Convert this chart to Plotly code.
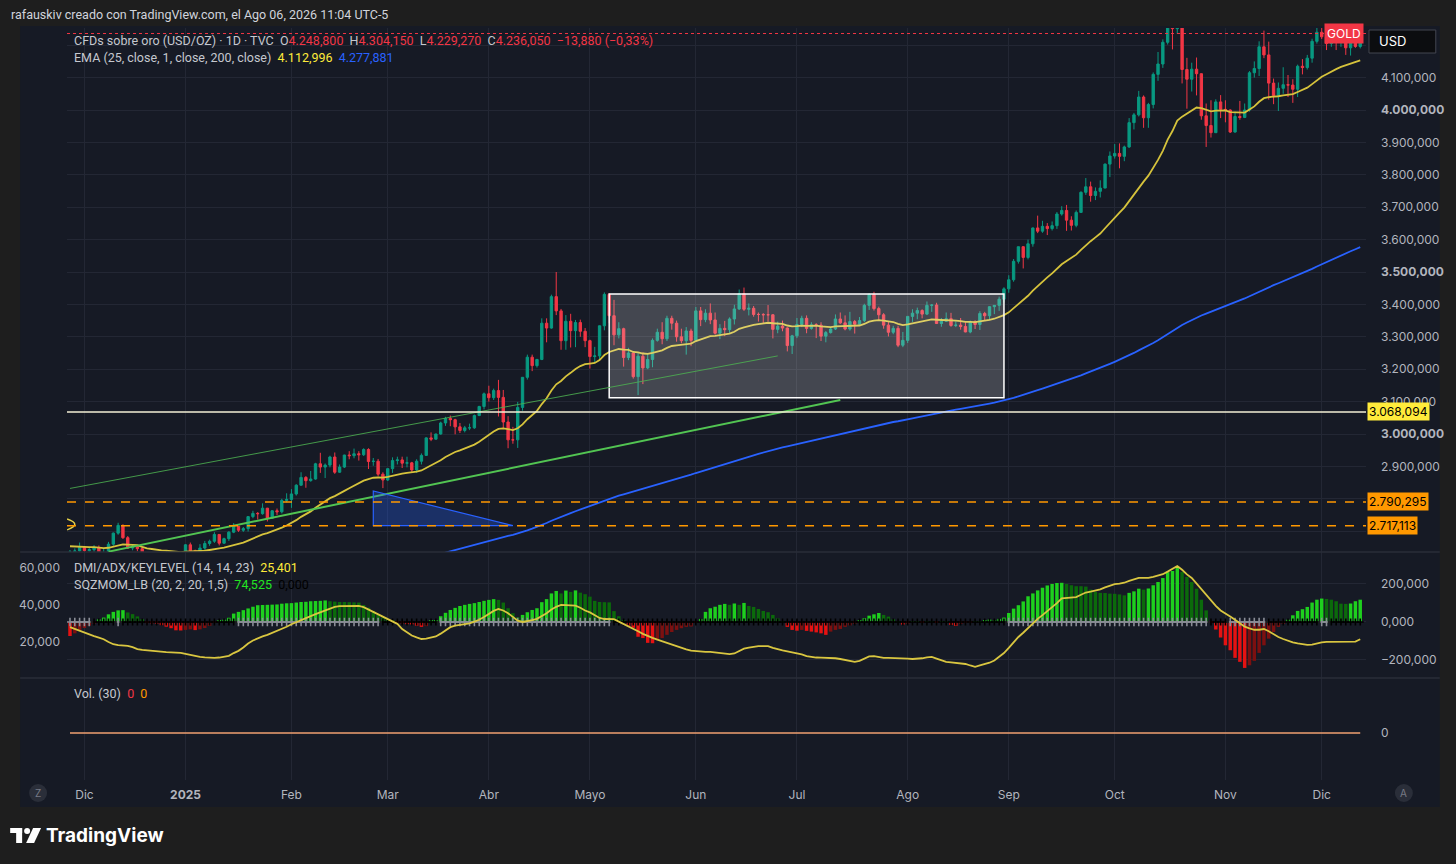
import numpy as np
import pandas as pd
import plotly.graph_objects as go

# TVC:GOLD daily candles, 27 Nov 2024 - 11 Dec 2025 (one line per month)
opens = [
    2633, 2636, 2639,
    2650, 2640, 2643, 2650, 2632, 2633, 2660, 2694, 2718, 2680, 2648, 2652, 2646, 2586, 2594, 2622, 2612, 2617, 2634, 2621, 2606,
    2624, 2658, 2640, 2636, 2648, 2662, 2669, 2690, 2663, 2677, 2697, 2715, 2703, 2708, 2745, 2755, 2754, 2771, 2740, 2763, 2760, 2795,
    2798, 2815, 2842, 2866, 2856, 2861, 2908, 2898, 2904, 2929, 2882, 2898, 2935, 2933, 2939, 2936, 2952, 2915, 2916, 2876,
    2858, 2893, 2918, 2920, 2910, 2911, 2889, 2916, 2934, 2988, 2984, 3000, 3034, 3048, 3044, 3022, 3011, 3019, 3019, 3057, 3085,
    3124, 3112, 3134, 3113, 3037, 2982, 2982, 3082, 3175, 3237, 3211, 3230, 3342, 3327, 3424, 3380, 3288, 3348, 3319, 3344, 3317,
    3288, 3239, 3241, 3334, 3431, 3365, 3306, 3325, 3236, 3250, 3177, 3240, 3204, 3230, 3289, 3314, 3294, 3357, 3342, 3300, 3288, 3318,
    3289, 3380, 3353, 3373, 3352, 3311, 3326, 3322, 3355, 3386, 3433, 3385, 3388, 3369, 3369, 3368, 3368, 3323, 3333, 3327, 3273,
    3303, 3338, 3357, 3326, 3337, 3336, 3302, 3313, 3324, 3355, 3343, 3324, 3347, 3339, 3350, 3397, 3431, 3387, 3368, 3336, 3314, 3326, 3274,
    3289, 3363, 3373, 3381, 3370, 3397, 3398, 3341, 3348, 3356, 3335, 3336, 3332, 3315, 3347, 3338, 3372, 3365, 3393, 3397, 3416,
    3448, 3476, 3533, 3578, 3545, 3587, 3636, 3626, 3641, 3634, 3643, 3679, 3690, 3660, 3644, 3684, 3746, 3763, 3736, 3749, 3759, 3833,
    3858, 3866, 3857, 3886, 3961, 3985, 4040, 3976, 4017, 4110, 4142, 4209, 4326, 4251, 4356, 4125, 4095, 4126, 4112, 3982, 3952, 3930, 4025,
    4002, 4000, 3932, 3980, 3977, 4000, 4115, 4128, 4195, 4170, 4083, 4045, 4067, 4078, 4077, 4064, 4135, 4131, 4160, 4212,
    4240, 4226, 4205, 4225, 4210, 4215, 4192, 4208, 4196,
]
highs = [
    2642, 2647, 2665,
    2650, 2649, 2657, 2656, 2645, 2667, 2696, 2726, 2721, 2685, 2660, 2655, 2654, 2625, 2632, 2625, 2622, 2638, 2637, 2628, 2628,
    2660, 2665, 2643, 2660, 2670, 2674, 2697, 2691, 2680, 2700, 2725, 2716, 2713, 2746, 2763, 2759, 2786, 2772, 2765, 2770, 2800, 2817,
    2830, 2845, 2882, 2870, 2886, 2911, 2942, 2909, 2933, 2943, 2906, 2936, 2947, 2955, 2947, 2956, 2956, 2926, 2923, 2882,
    2894, 2928, 2930, 2930, 2930, 2914, 2922, 2940, 2990, 3005, 3001, 3038, 3053, 3057, 3047, 3034, 3025, 3032, 3060, 3087, 3128,
    3149, 3140, 3167, 3136, 3055, 3022, 3099, 3175, 3245, 3245, 3232, 3357, 3357, 3430, 3500, 3386, 3367, 3371, 3352, 3353, 3327,
    3291, 3269, 3335, 3437, 3435, 3414, 3345, 3328, 3266, 3252, 3252, 3252, 3250, 3295, 3325, 3345, 3365, 3365, 3350, 3325, 3330, 3325,
    3392, 3392, 3385, 3403, 3375, 3339, 3349, 3360, 3399, 3446, 3452, 3403, 3395, 3375, 3373, 3398, 3370, 3347, 3350, 3329, 3306,
    3358, 3365, 3366, 3345, 3342, 3345, 3318, 3330, 3369, 3375, 3366, 3377, 3352, 3361, 3402, 3434, 3439, 3393, 3373, 3346, 3334, 3334, 3315,
    3363, 3385, 3390, 3385, 3409, 3401, 3405, 3358, 3375, 3374, 3348, 3358, 3345, 3350, 3351, 3379, 3377, 3394, 3398, 3424, 3453,
    3490, 3540, 3578, 3580, 3600, 3637, 3674, 3658, 3651, 3656, 3685, 3703, 3707, 3672, 3690, 3749, 3790, 3779, 3761, 3783, 3835, 3872,
    3895, 3897, 3890, 3975, 3991, 4059, 4045, 4022, 4116, 4179, 4218, 4330, 4380, 4381, 4360, 4161, 4146, 4162, 4113, 4020, 4030, 4033, 4046,
    4030, 4002, 3995, 4028, 4020, 4120, 4150, 4212, 4245, 4211, 4097, 4085, 4132, 4108, 4095, 4140, 4157, 4170, 4220, 4255,
    4264, 4240, 4241, 4228, 4259, 4230, 4217, 4236, 4262,
]
lows = [
    2605, 2625, 2632,
    2622, 2632, 2635, 2614, 2613, 2625, 2655, 2689, 2676, 2645, 2641, 2638, 2583, 2583, 2592, 2603, 2610, 2616, 2615, 2597, 2604,
    2622, 2635, 2615, 2630, 2643, 2655, 2664, 2656, 2661, 2670, 2694, 2698, 2698, 2699, 2740, 2736, 2751, 2730, 2738, 2750, 2755, 2789,
    2772, 2810, 2840, 2834, 2853, 2859, 2880, 2864, 2897, 2877, 2880, 2895, 2922, 2925, 2918, 2932, 2892, 2902, 2869, 2833,
    2855, 2880, 2906, 2895, 2897, 2880, 2880, 2906, 2932, 2978, 2983, 2998, 3025, 3024, 2999, 3003, 3005, 3012, 3016, 3055, 3076,
    3100, 3105, 3054, 3015, 2956, 2970, 2957, 3072, 3168, 3194, 3205, 3228, 3283, 3325, 3367, 3260, 3260, 3267, 3268, 3300, 3268,
    3202, 3222, 3230, 3320, 3342, 3274, 3295, 3208, 3228, 3171, 3120, 3154, 3200, 3206, 3285, 3277, 3287, 3322, 3285, 3280, 3245, 3271,
    3288, 3333, 3345, 3339, 3307, 3293, 3302, 3312, 3338, 3383, 3380, 3366, 3362, 3347, 3340, 3347, 3295, 3311, 3317, 3255, 3247,
    3296, 3330, 3311, 3322, 3296, 3287, 3283, 3310, 3321, 3340, 3320, 3319, 3310, 3334, 3345, 3383, 3381, 3351, 3325, 3301, 3308, 3268, 3268,
    3281, 3346, 3354, 3357, 3367, 3377, 3340, 3331, 3346, 3331, 3330, 3322, 3314, 3311, 3324, 3321, 3351, 3352, 3370, 3380, 3406,
    3436, 3470, 3526, 3511, 3539, 3578, 3620, 3621, 3614, 3628, 3633, 3674, 3627, 3628, 3638, 3683, 3738, 3717, 3722, 3730, 3759, 3793,
    3850, 3820, 3842, 3883, 3940, 3980, 3945, 3945, 4005, 4090, 4130, 4202, 4187, 4235, 4082, 4004, 4057, 4045, 3970, 3886, 3915, 3930, 3975,
    3962, 3929, 3930, 3970, 3975, 3995, 4100, 4105, 4160, 4032, 4018, 3997, 4050, 4040, 4022, 4040, 4110, 4125, 4146, 4205,
    4219, 4185, 4195, 4185, 4195, 4170, 4168, 4192, 4190,
]
closes = [
    2636, 2639, 2650,
    2640, 2643, 2650, 2632, 2633, 2660, 2694, 2718, 2680, 2648, 2652, 2646, 2586, 2594, 2622, 2612, 2617, 2634, 2621, 2606, 2624,
    2658, 2640, 2636, 2648, 2662, 2669, 2690, 2663, 2677, 2697, 2715, 2703, 2708, 2745, 2755, 2754, 2771, 2740, 2763, 2760, 2795, 2798,
    2815, 2842, 2866, 2856, 2861, 2908, 2898, 2904, 2929, 2882, 2898, 2935, 2933, 2939, 2936, 2952, 2915, 2916, 2876, 2858,
    2893, 2918, 2920, 2910, 2911, 2889, 2916, 2934, 2988, 2984, 3000, 3034, 3048, 3044, 3022, 3011, 3019, 3019, 3057, 3085, 3124,
    3112, 3134, 3113, 3037, 2982, 2982, 3082, 3175, 3237, 3211, 3230, 3342, 3327, 3424, 3380, 3288, 3348, 3319, 3344, 3317, 3288,
    3239, 3241, 3334, 3431, 3365, 3306, 3325, 3236, 3250, 3177, 3240, 3204, 3230, 3289, 3314, 3294, 3357, 3342, 3300, 3288, 3318, 3289,
    3380, 3353, 3373, 3352, 3311, 3326, 3322, 3355, 3386, 3433, 3385, 3388, 3369, 3369, 3368, 3368, 3323, 3333, 3327, 3273, 3303,
    3338, 3357, 3326, 3337, 3336, 3302, 3313, 3324, 3355, 3343, 3324, 3347, 3339, 3350, 3397, 3431, 3387, 3368, 3336, 3314, 3326, 3274, 3289,
    3363, 3373, 3381, 3370, 3397, 3398, 3341, 3348, 3356, 3335, 3336, 3332, 3315, 3347, 3338, 3372, 3365, 3393, 3397, 3416, 3448,
    3476, 3533, 3578, 3545, 3587, 3636, 3626, 3641, 3634, 3643, 3679, 3690, 3660, 3644, 3684, 3746, 3763, 3736, 3749, 3759, 3833, 3858,
    3866, 3857, 3886, 3961, 3985, 4040, 3976, 4017, 4110, 4142, 4209, 4326, 4251, 4356, 4125, 4095, 4126, 4112, 3982, 3952, 3930, 4025, 4002,
    4000, 3932, 3980, 3977, 4000, 4115, 4128, 4195, 4170, 4083, 4045, 4067, 4078, 4077, 4064, 4135, 4131, 4160, 4212, 4240,
    4226, 4205, 4225, 4210, 4215, 4192, 4208, 4196, 4228,
]

# SQZMOM_LB momentum, one value per bar
sqz_mom = [
    -74, -60, -42, -32, -20, -8, 14, 23, 40, 53,
    61, 62, 50, 41, 29, 15, -6, -7, -9, -17,
    -25, -33, -44, -45, -42, -39, -43, -39, -32, -21,
    -4, 5, 12, 22, 44, 53, 62, 71, 80, 88,
    89, 90, 91, 92, 96, 98, 99, 102, 105, 106,
    109, 110, 111, 113, 109, 107, 105, 105, 104, 103,
    102, 89, 75, 58, 38, 24, 14, 5, -4, -7,
    -12, -13, -20, -26, -22, 8, 10, 30, 48, 63,
    74, 84, 90, 95, 99, 105, 111, 116, 120, 116,
    102, 72, 46, 25, 37, 51, 63, 72, 104, 120,
    150, 163, 150, 165, 158, 166, 154, 146, 133, 111,
    105, 104, 103, 57, 30, 10, -20, -31, -78, -85,
    -110, -112, -96, -85, -68, -53, -42, -33, -26, -24,
    -5, 16, 53, 72, 80, 90, 95, 90, 97, 90,
    100, 84, 79, 68, 58, 51, 37, 19, 2, -26,
    -42, -46, -42, -47, -51, -55, -60, -68, -51, -42,
    -37, -26, -18, -9, 9, 20, 33, 40, 47, 37,
    28, 14, 4, -14, -9, 3, 4, -2, 3, 2,
    -3, 2, 3, -16, -21, -10, -6, -2, 3, 4,
    9, 13, 9, 16, 23, 47, 70, 88, 108, 135,
    150, 166, 180, 192, 200, 205, 206, 200, 193, 188,
    188, 186, 170, 158, 153, 152, 149, 148, 145, 140,
    153, 161, 175, 170, 176, 193, 210, 231, 262, 268,
    293, 263, 237, 210, 175, 117, 61, -5, -40, -82,
    -123, -149, -189, -210, -242, -228, -205, -163, -123, -88,
    -53, -26, -9, 12, 35, 58, 67, 79, 102, 117,
    123, 121, 117, 109, 96, 95, 97, 109, 117,
]

# DMI/ADX line, one value per bar
adx = [
    28.0, 27.0, 25.8, 25.0, 24.0, 23.2, 22.4, 21.5, 20.0, 18.8,
    18.3, 18.1, 17.9, 17.2, 16.2, 15.7, 15.4, 15.1, 14.8, 14.6,
    14.5, 14.4, 14.3, 14.1, 13.6, 13.0, 12.4, 12.0, 11.7, 11.5,
    11.4, 11.6, 11.9, 12.5, 14.0, 15.2, 17.0, 19.2, 20.8, 22.0,
    23.0, 23.8, 24.8, 25.8, 26.9, 28.2, 29.6, 30.8, 31.8, 32.8,
    34.0, 35.0, 36.0, 37.2, 38.4, 39.0, 39.4, 39.5, 39.5, 39.5,
    39.5, 38.8, 37.5, 36.5, 35.2, 33.8, 32.4, 31.0, 29.8, 27.0,
    25.0, 23.5, 22.5, 21.6, 21.8, 22.3, 23.0, 24.5, 26.5, 28.0,
    28.8, 29.3, 29.6, 30.0, 31.0, 32.0, 33.5, 35.0, 36.8, 37.8,
    37.0, 35.5, 33.5, 31.5, 30.8, 31.2, 31.8, 32.5, 34.0, 35.5,
    37.5, 39.0, 40.0, 40.0, 39.8, 39.6, 38.5, 37.0, 36.0, 34.5,
    33.0, 32.4, 32.4, 32.3, 31.0, 29.8, 28.4, 27.0, 25.8, 24.4,
    23.2, 22.2, 21.3, 20.4, 19.3, 18.3, 17.5, 16.8, 16.0, 15.3,
    15.0, 14.7, 14.6, 14.6, 14.4, 14.0, 13.6, 13.4, 13.8, 15.0,
    16.4, 17.0, 17.5, 17.8, 17.8, 17.8, 16.8, 16.0, 15.4, 14.9,
    14.4, 14.1, 13.3, 12.4, 11.8, 11.6, 11.5, 11.4, 11.4, 11.2,
    10.8, 10.4, 9.8, 9.3, 9.8, 11.0, 12.2, 12.3, 11.8, 11.4,
    11.4, 11.4, 11.4, 11.2, 11.0, 10.8, 10.8, 11.2, 11.7, 11.9,
    11.0, 10.0, 9.3, 9.0, 8.7, 8.4, 8.1, 7.3, 6.6, 7.3,
    8.0, 8.8, 10.0, 11.8, 14.0, 16.8, 20.0, 22.7, 25.0, 27.5,
    30.3, 32.5, 34.5, 36.5, 38.5, 41.0, 43.5, 43.8, 44.0, 44.2,
    45.5, 46.7, 47.2, 47.8, 48.4, 49.5, 50.5, 51.2, 51.5, 52.0,
    53.0, 54.0, 54.6, 54.6, 54.6, 55.2, 56.0, 56.6, 58.0, 59.5,
    61.0, 59.0, 56.5, 54.6, 51.5, 48.5, 45.5, 42.5, 39.5, 37.0,
    35.5, 33.8, 32.0, 30.2, 28.3, 27.3, 26.6, 26.6, 27.0, 25.8,
    24.2, 22.7, 21.6, 20.5, 19.8, 19.2, 18.8, 18.4, 18.6, 19.3,
    19.8, 20.0, 20.0, 20.0, 20.0, 20.0, 20.0, 20.2, 21.5,
]

# bars where the squeeze is off (gray crosses), inclusive ranges
sqz_off = [(0, 4), (10, 10), (35, 64), (77, 112), (195, 236), (241, 248), (260, 261)]

month_labels = ["Dic", "<b>2025</b>", "Feb", "Mar", "Abr", "Mayo", "Jun", "Jul", "Ago", "Sep", "Oct", "Nov", "Dic"]

# drawings on the chart
box_dates, box_prices = ("2025-05-07", "2025-08-29"), (3112, 3432)
thin_line = [("2024-11-27", 2832), ("2025-06-25", 3241)]
thick_line = [("2024-12-09", 2637), ("2025-07-14", 3105)]
tri_dates, tri_prices = ("2025-02-26", "2025-04-08"), (2824, 2717.113)
white_level = 3068.094
orange_levels = [2790.295, 2717.113]
last_price = 4236.05

# ---- derived ----
dates = pd.bdate_range("2024-11-27", "2025-12-11")
dates = dates[~dates.isin(pd.to_datetime(["2024-12-25", "2025-01-01", "2025-04-18"]))]
assert len(dates) == len(closes) == len(opens) == len(highs) == len(lows) == len(sqz_mom) == len(adx)
idx = np.arange(len(dates))
pos = {d.strftime("%Y-%m-%d"): i for i, d in enumerate(dates)}

firsts = pd.Series(idx, index=dates).groupby([dates.year, dates.month]).first().values[1:]


def ema(values, n, seed):
    k = 2 / (n + 1)
    out, e = [], seed
    for v in values:
        e += k * (v - e)
        out.append(e)
    return out


ema25 = ema(closes, 25, 2655)
ema200 = ema(closes, 200, 2430)


def es(v, d=3):
    s = f"{v:,.{d}f}"
    return s.replace(",", "X").replace(".", ",").replace("X", ".")


LIME, GREEN, RED, MAROON = "#1ed01e", "#0b6a0b", "#e61212", "#7c1010"
bar_cols, prev = [], 0
for v in sqz_mom:
    if v > 0:
        bar_cols.append(LIME if v > prev else GREEN)
    else:
        bar_cols.append(RED if v < prev else MAROON)
    prev = v

off_set = set()
for a, b in sqz_off:
    off_set.update(range(a, b + 1))
gx, gy = [], []
for a, b in sqz_off:
    gx += list(range(a, b + 1)) + [None]
    gy += [0] * (b - a + 1) + [None]
bx = [i for i in idx if i not in off_set]

BG = "#161a25"
PAGE = "#1e1e1e"
GRID = "#232734"
TXT = "#b2b5be"
FONT = "Inter, Roboto, sans-serif"
LFONT = "Roboto, sans-serif"


def px(x):
    return (x - 67) / 1303


def py(y):
    return (780 - y) / 752


fig = go.Figure()

fig.add_trace(go.Candlestick(
    x=idx, open=opens, high=highs, low=lows, close=closes,
    increasing=dict(line=dict(color="#089981", width=1), fillcolor="#089981"),
    decreasing=dict(line=dict(color="#f23645", width=1), fillcolor="#f23645"),
    whiskerwidth=0, xaxis="x", yaxis="y"))
fig.add_trace(go.Scatter(x=idx, y=ema25, mode="lines", line=dict(color="#d6c33c", width=1.8),
                         xaxis="x", yaxis="y"))
fig.add_trace(go.Scatter(x=idx, y=ema200, mode="lines", line=dict(color="#2962ff", width=1.8),
                         xaxis="x", yaxis="y"))

fig.add_trace(go.Bar(x=idx, y=sqz_mom, marker=dict(color=bar_cols, line=dict(width=0)), width=0.72,
                     xaxis="x", yaxis="y2"))
fig.add_trace(go.Scatter(x=gx, y=gy, mode="lines+markers", line=dict(color="#787b86", width=1),
                         marker=dict(symbol="cross-thin", size=6, line=dict(color="#8a8d96", width=1.6)),
                         xaxis="x", yaxis="y2"))
fig.add_trace(go.Scatter(x=bx, y=[0] * len(bx), mode="markers",
                         marker=dict(symbol="cross-thin", size=5, line=dict(color="#000000", width=1.6)),
                         xaxis="x", yaxis="y2"))
fig.add_trace(go.Scatter(x=idx, y=adx, mode="lines", line=dict(color="#d9c640", width=1.8),
                         xaxis="x", yaxis="y3"))

fig.add_trace(go.Scatter(x=idx, y=[0] * len(idx), mode="lines", line=dict(color="#f0a070", width=1.5),
                         xaxis="x", yaxis="y4"))

shapes = [
    dict(type="rect", xref="paper", yref="paper", x0=px(20), x1=px(1444), y0=py(807), y1=py(26),
         fillcolor=BG, line=dict(width=0), layer="below"),
    dict(type="line", xref="paper", yref="paper", x0=px(20), x1=px(1444), y0=py(552), y1=py(552),
         line=dict(color="#2a2e39", width=1.5)),
    dict(type="line", xref="paper", yref="paper", x0=px(20), x1=px(1444), y0=py(678), y1=py(678),
         line=dict(color="#2a2e39", width=1.5)),
    # consolidation box
    dict(type="rect", xref="x", yref="y", x0=pos[box_dates[0]], x1=pos[box_dates[1]],
         y0=box_prices[0], y1=box_prices[1], fillcolor="rgba(255,255,255,0.2)",
         line=dict(color="#ffffff", width=1.5), layer="above"),
    dict(type="line", xref="x", yref="y", x0=pos[thin_line[0][0]], y0=thin_line[0][1],
         x1=pos[thin_line[1][0]], y1=thin_line[1][1], line=dict(color="rgba(76,175,80,0.85)", width=1)),
    dict(type="line", xref="x", yref="y", x0=pos[thick_line[0][0]], y0=thick_line[0][1],
         x1=pos[thick_line[1][0]], y1=thick_line[1][1], line=dict(color="#52c452", width=2)),
    dict(type="path", xref="x", yref="y",
         path=f"M {pos[tri_dates[0]]},{tri_prices[0]} L {pos[tri_dates[0]]},{tri_prices[1]} "
              f"L {pos[tri_dates[1]]},{tri_prices[1]} Z",
         fillcolor="rgba(41,98,255,0.3)", line=dict(color="#2962ff", width=1.2)),
    dict(type="path", xref="x", yref="y", path="M -0.6,2738 Q 2.6,2722 -0.6,2704",
         line=dict(color="#e8d44a", width=1.5)),
    dict(type="line", xref="paper", yref="y", x0=0, x1=1, y0=white_level, y1=white_level,
         line=dict(color="#f4f1d6", width=1.5)),
    dict(type="line", xref="paper", yref="y", x0=0, x1=1, y0=last_price, y1=last_price,
         line=dict(color="#f23645", width=1, dash="dot")),
    # currency button
    dict(type="rect", xref="paper", yref="paper", x0=px(1373), x1=px(1440), y0=py(53), y1=py(30),
         fillcolor="#0c0d10", line=dict(color="#434651", width=1)),
    # Z / A buttons
    dict(type="circle", xref="paper", yref="paper", x0=px(29), x1=px(47), y0=py(802), y1=py(784),
         fillcolor="#2a2e39", line=dict(width=0)),
    dict(type="circle", xref="paper", yref="paper", x0=px(1399), x1=px(1417), y0=py(802), y1=py(784),
         fillcolor="#2a2e39", line=dict(width=0)),
    # TradingView logo glyph
    dict(type="rect", xref="paper", yref="paper", x0=px(10), x1=px(22), y0=py(833), y1=py(828),
         fillcolor="#ffffff", line=dict(width=0)),
    dict(type="rect", xref="paper", yref="paper", x0=px(16), x1=px(22), y0=py(843), y1=py(828),
         fillcolor="#ffffff", line=dict(width=0)),
    dict(type="circle", xref="paper", yref="paper", x0=px(24), x1=px(30), y0=py(834), y1=py(828),
         fillcolor="#ffffff", line=dict(width=0)),
    dict(type="path", xref="paper", yref="paper",
         path=f"M {px(33)},{py(828)} L {px(41)},{py(828)} L {px(34)},{py(843)} L {px(26)},{py(843)} Z",
         fillcolor="#ffffff", line=dict(width=0)),
]
for lv in orange_levels:
    shapes.append(dict(type="line", xref="paper", yref="y", x0=0, x1=1, y0=lv, y1=lv,
                       line=dict(color="#ff9800", width=1.5, dash="dash")))

anns = []


def note(x, y, text, size=12, color=TXT, xanchor="left", family=LFONT, **kw):
    anns.append(dict(xref="paper", yref="paper", x=px(x), y=py(y), text=text, showarrow=False,
                     xanchor=xanchor, yanchor="middle", font=dict(family=family, size=size, color=color), **kw))


red = lambda s: f"<span style='color:#f23645'>{s}</span>"
sp = "\u00a0"
note(9, 14, "rafauskiv creado con TradingView.com, el Ago 06, 2026 11:04 UTC-5", size=12.5, color="#d1d4dc")
note(72, 41, f"CFDs sobre oro (USD/OZ) · 1D · TVC{sp}{sp}O{red('4.248,800')}{sp}{sp}H{red('4.304,150')}"
             f"{sp}{sp}L{red('4.229,270')}{sp}{sp}C{red('4.236,050')}{sp}{sp}{red('−13,880 (−0,33%)')}",
     size=12.5, color="#c5c8cf")
note(72, 57, f"EMA (25, close, 1, close, 200, close){sp}{sp}<span style='color:#ffeb3b'>4.112,996</span>"
             f"{sp}{sp}<span style='color:#2962ff'>4.277,881</span>", size=12.5, color="#c5c8cf")
note(72, 567, f"DMI/ADX/KEYLEVEL (14, 14, 23){sp}{sp}<span style='color:#ffeb3b'>25,401</span>",
     size=12.5, color="#c5c8cf")
note(72, 584, f"SQZMOM_LB (20, 2, 20, 1,5){sp}{sp}<span style='color:#22e622'>74,525</span>"
              f"{sp}{sp}<span style='color:#000000'>0,000</span>", size=12.5, color="#c5c8cf")
note(72, 693, f"Vol. (30){sp}{sp}{red('0')}{sp}{sp}<span style='color:#ff9800'>0</span>",
     size=12.5, color="#c5c8cf")
note(1381, 41, "USD", size=13, color="#ffffff", family=FONT)
note(38, 793, "Z", size=10, color="#787b86", xanchor="center", family=FONT)
note(1408, 793, "A", size=10, color="#787b86", xanchor="center", family=FONT)
note(44, 835, "<b>TradingView</b>", size=19, color="#ffffff", family=FONT)

# price labels on the scale
anns.append(dict(xref="paper", yref="y", x=px(1371), y=white_level, text=es(white_level), showarrow=False,
                 xanchor="left", yanchor="middle", bgcolor="#ffeb3b", borderpad=1,
                 font=dict(family=FONT, size=12, color="#000000")))
for lv in orange_levels:
    anns.append(dict(xref="paper", yref="y", x=px(1371), y=lv, text=es(lv), showarrow=False,
                     xanchor="left", yanchor="middle", bgcolor="#ff9800", borderpad=1,
                     font=dict(family=FONT, size=12, color="#000000")))
anns.append(dict(xref="paper", yref="y", x=px(1368), y=last_price, text="GOLD", showarrow=False,
                 xanchor="right", yanchor="middle", bgcolor="#f23645", borderpad=2,
                 font=dict(family=FONT, size=12, color="#ffffff")))

# gridlines every 100; labels hidden where the scale badges sit
price_ticks = list(range(2700, 4201, 100))
hidden = {2700, 2800, 4200}
price_text = ["" if v in hidden else (f"<b>{es(v)}</b>" if v % 500 == 0 else es(v)) for v in price_ticks]

tickfont = dict(family=FONT, size=12, color=TXT)
fig.update_layout(
    width=1456, height=864,
    margin=dict(l=67, r=86, t=28, b=84),
    paper_bgcolor=PAGE, plot_bgcolor=BG,
    showlegend=False, hovermode=False, bargap=0.25,
    font=dict(family=FONT, color=TXT),
    xaxis=dict(domain=[0, 1], anchor="y4", range=[-0.62, 269.2], tickvals=list(firsts),
               ticktext=month_labels, showgrid=True, gridcolor=GRID, zeroline=False,
               showline=False, ticks="", tickfont=tickfont, rangeslider=dict(visible=False),
               ticklabelstandoff=6),
    yaxis=dict(domain=[py(552), 1], anchor="x", side="right", range=[2635.8, 4253.1],
               tickvals=price_ticks, ticktext=price_text, showgrid=True, gridcolor=GRID,
               zeroline=False, ticks="", tickfont=tickfont, ticklabelstandoff=14),
    yaxis2=dict(domain=[py(678), py(552)], anchor="x", side="right", range=[-295, 368],
                tickvals=[-200, 0, 200], ticktext=["−200,000", "0,000", "200,000"],
                showgrid=True, gridcolor=GRID, zeroline=False, ticks="", tickfont=tickfont,
                ticklabelstandoff=14),
    yaxis3=dict(overlaying="y2", anchor="x", side="left", range=[0.54, 68.6],
                tickvals=[20, 40, 60], ticktext=["20,000", "40,000", "60,000"],
                showgrid=False, zeroline=False, ticks="", tickfont=tickfont, ticklabelstandoff=6),
    yaxis4=dict(domain=[0, py(678)], anchor="x", side="right", range=[-47, 55],
                tickvals=[0], ticktext=["0"], showgrid=False, zeroline=False, ticks="",
                tickfont=tickfont, ticklabelstandoff=14),
    shapes=shapes, annotations=anns,
)

fig.write_html("out.html", config={"displayModeBar": False},
               post_script="document.body.style.margin='0';document.body.style.background='#1e1e1e';")
